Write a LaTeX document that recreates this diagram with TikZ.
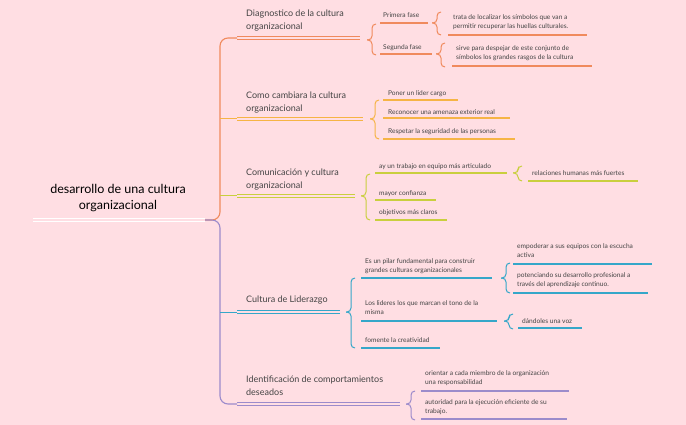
\documentclass[tikz,border=0pt]{standalone}
\usepackage{fontspec}
\setmainfont{Lato}
\definecolor{bg}{HTML}{FFDEE3}
\definecolor{tx}{HTML}{444444}
\definecolor{cO}{HTML}{F08A5D}
\definecolor{cY}{HTML}{F6B445}
\definecolor{cG}{HTML}{C9CF3E}
\definecolor{cB}{HTML}{35A7C9}
\definecolor{cP}{HTML}{9C8BCB}
\newcommand\mybrace[5]{%
 \draw[#5,line width=1pt,rounded corners=4pt] ({#1+4},#2)--(#1,#2)--(#1,#3)--({#1-5},#3);
 \draw[#5,line width=1pt,rounded corners=4pt] ({#1+4},#4)--(#1,#4)--(#1,#3)--({#1-5},#3);}
\newcommand\ul[4]{\draw[#4,line width=1.1pt] (#1,#3)--(#2,#3);}
\newcommand\dul[4]{\draw[#4,line width=1pt] (#1,{#3-1.3})--(#2,{#3-1.3}); \draw[#4,line width=1pt] (#1,{#3+1.3})--(#2,{#3+1.3});}
\begin{document}
\begin{tikzpicture}[x=1pt,y=-1pt,
 leaf/.style={anchor=north west,inner sep=0,align=left,text=tx,font=\fontsize{6.6}{9.5}\selectfont},
 br/.style={anchor=north west,inner sep=0,align=left,text=tx,font=\fontsize{9}{12.5}\selectfont}]
\fill[bg] (0,0) rectangle (686,425);
\useasboundingbox (0,0) rectangle (686,425);
% root
\node[align=center,text=black,font=\fontsize{12.5}{16}\selectfont] (root) at (118,198) {desarrollo de una cultura\\organizacional};
\draw[white,line width=1pt] (33,218.7)--(205,218.7) (33,221.3)--(205,221.3);
\draw[cO,line width=1.1pt,rounded corners=8pt] (205,220)--(220,220)--(220,38)--(237,38);
\draw[cP,line width=1.1pt,rounded corners=8pt] (205,220)--(220,220)--(220,404)--(237,404);
\draw[cY,line width=1pt] (220,119)--(237,119);
\draw[cG,line width=1pt] (220,196)--(237,196);
\draw[cB,line width=1pt] (220,312)--(237,312);
% Diagnostico
\node[br] (d) at (246,10) {Diagnostico de la cultura\\organizacional};
\dul{237}{360}{38}{cO}
\mybrace{372}{24}{40}{55}{cO}
\node[leaf] (d1) at (383,12) {Primera fase}; \ul{380}{428}{23}{cO}
\node[leaf] (d2) at (383,44) {Segunda fase}; \ul{380}{432}{54}{cO}
\mybrace{437}{12}{23}{35}{cO}
\node[leaf] (d1a) at (453,14) {trata de localizar los símbolos que van a\\permitir recuperar las huellas culturales.}; \ul{448}{587}{35}{cO}
\mybrace{441}{43}{54}{67}{cO}
\node[leaf] (d2a) at (456,45) {sirve para despejar de este conjunto de\\símbolos los grandes rasgos de la cultura}; \ul{452}{592}{66}{cO}
% Como
\node[br] (c) at (246,92) {Como cambiara la cultura\\organizacional};
\dul{237}{363}{119}{cY}
\mybrace{375}{100}{119}{139}{cY}
\node[leaf] (c1) at (388,90) {Poner un lider cargo}; \ul{383}{458}{100}{cY}
\node[leaf] (c2) at (388,109) {Reconocer una amenaza exterior real}; \ul{383}{510}{118}{cY}
\node[leaf] (c3) at (388,128) {Respetar la seguridad de las personas}; \ul{383}{515}{139}{cY}
% Comunicacion
\node[br] (m) at (246,169) {Comunicación y cultura\\organizacional};
\dul{237}{355}{196}{cG}
\mybrace{366}{174}{196}{220}{cG}
\node[leaf] (m1) at (379,163) {ay un trabajo en equipo más articulado}; \ul{375}{507}{173}{cG}
\mybrace{518}{166}{173}{181}{cG}
\node[leaf] (m1a) at (532,170) {relaciones humanas más fuertes}; \ul{528}{638}{181}{cG}
\node[leaf] (m2) at (379,190) {mayor confianza}; \ul{375}{436}{200}{cG}
\node[leaf] (m3) at (379,209) {objetivos más claros}; \ul{375}{447}{220}{cG}
% Liderazgo
\node[br] (l) at (246,296) {Cultura de Liderazgo};
\dul{237}{340}{312}{cB}
\mybrace{351}{278}{312}{348}{cB}
\node[leaf] (l1) at (365,258) {Es un pilar fundamental para construir\\grandes culturas organizacionales}; \ul{361}{492}{278}{cB}
\mybrace{506}{263}{278}{293}{cB}
\node[leaf] (l1a) at (517,243) {empoderar a sus equipos con la escucha\\activa}; \ul{513}{652}{264}{cB}
\node[leaf] (l1b) at (517,272) {potenciando su desarrollo profesional a\\través del aprendizaje continuo.}; \ul{513}{648}{293}{cB}
\node[leaf] (l2) at (365,300) {Los lideres los que marcan el tono de la\\misma}; \ul{361}{497}{321}{cB}
\mybrace{509}{314}{321}{329}{cB}
\node[leaf] (l2a) at (522,318) {dándoles una voz}; \ul{518}{582}{328}{cB}
\node[leaf] (l3) at (365,337) {fomente la creatividad}; \ul{361}{440}{348}{cB}
% Identificacion
\node[br] (i) at (246,376) {Identificación de comportamientos\\deseados};
\dul{237}{400}{404}{cP}
\mybrace{411}{391}{404}{420}{cP}
\node[leaf] (i1) at (425,370) {orientar a cada miembro de la organización\\una responsabilidad}; \ul{421}{569}{391}{cP}
\node[leaf] (i2) at (425,399) {autoridad para la ejecución eficiente de su\\trabajo.}; \ul{421}{567}{419}{cP}
\end{tikzpicture}
\end{document}
